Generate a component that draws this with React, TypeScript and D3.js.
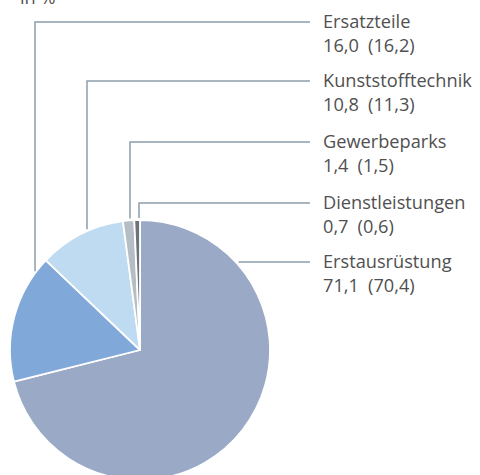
import React from "react";
import * as d3 from "d3";

const categories = ["Erstausrüstung", "Ersatzteile", "Kunststofftechnik", "Gewerbeparks", "Dienstleistungen"];
const values = [71.1, 16.0, 10.8, 1.4, 0.7];
const prevValues = [70.4, 16.2, 11.3, 1.5, 0.6];
const colors = ["#99a9c6", "#80a9da", "#bedbf2", "#b4bec4", "#6d7378"];
const unitLabel = "in %";

// label layout (annotation positions)
const labelLineY = [262, 22, 81, 142, 203];
const leaderX = [null, 35, 87, 130, 139];

const W = 480;
const H = 475;
const cx = 140;
const cy = 350;
const R = 130;
const lineEndX = 310;
const textX = 323;
const FONT = "Open Sans, sans-serif";
const FS = 18.2;

const fmt = (v: number) => v.toFixed(1).replace(".", ",");

export default function App() {
  const pie = d3.pie<number>().sort(null).value((d) => d)(values);
  const arc = d3.arc<d3.PieArcDatum<number>>().innerRadius(0).outerRadius(R);

  return (
    <svg width={W} height={H} style={{ position: "absolute", left: 0, top: 0 }}>
      <text x={20} y={4} fontFamily={FONT} fontSize={FS} fill="#505050">
        {unitLabel}
      </text>
      <g transform={`translate(${cx},${cy})`}>
        {pie.map((p, i) => (
          <path key={i} d={arc(p) || ""} fill={colors[i]} stroke="#fff" strokeWidth={1.8} strokeLinejoin="round" />
        ))}
      </g>
      {categories.map((c, i) => {
        const y = labelLineY[i];
        const lx = leaderX[i];
        let pts: [number, number][];
        if (lx == null) {
          const dy = y - cy;
          const sx = cx + Math.sqrt(R * R - dy * dy);
          pts = [
            [sx + 3, y],
            [lineEndX, y],
          ];
        } else {
          const dx = lx - cx;
          const sy = cy - Math.sqrt(R * R - dx * dx);
          pts = [
            [lx, sy - 2],
            [lx, y],
            [lineEndX, y],
          ];
        }
        return (
          <path
            key={"l" + i}
            d={d3.line()(pts) || ""}
            fill="none"
            stroke="#8d9fab"
            strokeWidth={1.5}
          />
        );
      })}
      {categories.map((c, i) => (
        <text key={"t" + i} x={textX} fontFamily={FONT} fontSize={FS} fill="#505050">
          <tspan x={textX} y={labelLineY[i] + 5.5}>
            {c}
          </tspan>
          <tspan x={textX} y={labelLineY[i] + 29.5}>
            {fmt(values[i])}{"\u2002"}({fmt(prevValues[i])})
          </tspan>
        </text>
      ))}
    </svg>
  );
}
